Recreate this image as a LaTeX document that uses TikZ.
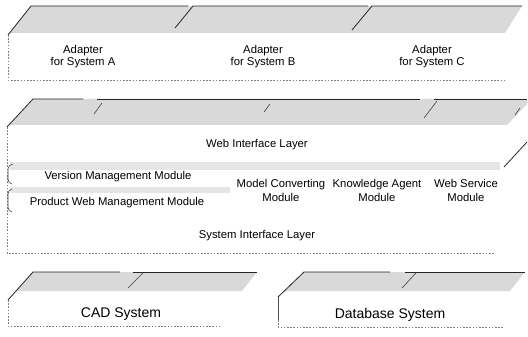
\documentclass[tikz,border=0pt]{standalone}
\usepackage{fontspec}
\setmainfont{Liberation Sans}
\begin{document}
\begin{tikzpicture}[x={(1pt,0pt)}, y={(0pt,-1pt)},
  topface/.style={fill=black!15, draw=none},
  rim/.style={draw=black!85, line width=0.8pt},
  mark/.append style={},
  thinrim/.style={draw=black!75, line width=0.6pt},
  faceedge/.style={draw=black!50, line width=0.6pt, dash pattern=on 1.6pt off 1.6pt},
  band/.style={fill=black!10, draw=none},
  lbl/.style={font=\fontsize{11.3}{12}\selectfont, align=center, inner sep=0pt},
  lbltwo/.style={font=\fontsize{11.3}{14}\selectfont, align=center, inner sep=0pt},
  biglbl/.style={font=\fontsize{14}{16}\selectfont, inner sep=0pt}]
\useasboundingbox (0,0) rectangle (528,337);

% ---------- adapter layer ----------
\fill[topface] (8,35) -- (31,6) -- (522,6) -- (505,33) -- (8,33) -- cycle;
\draw[rim] (8,35) -- (31,6) -- (188,6);
\draw[rim] (175,28) -- (193,6) -- (368,6);
\draw[rim] (352,30) -- (372,6) -- (522,6);
\draw[faceedge] (8,35) -- (8,80) -- (505,80);
\node[lbl] (adA) at (83,57) {Adapter\\for System A};
\node[lbl] (adB) at (263,57) {Adapter\\for System B};
\node[lbl] (adC) at (432,57) {Adapter\\for System C};

% ---------- interface layer ----------
\fill[topface] (7,127) -- (33,99) -- (527,99) -- (527,104) -- (507,125) -- (7,125) -- cycle;
\draw[rim] (7,127) -- (33,99) -- (83,99);
\draw[rim] (97,99) -- (420,99);
\draw[rim] (434,99) -- (527,99);
\draw[thinrim] (94,114) -- (102,103);
\draw[thinrim] (264,112) -- (270,104);
\draw[thinrim] (424,118) -- (437,101);
\draw[thinrim] (515,115) -- (520,108);
\draw[rim] (504,167) -- (527,142);
\draw[faceedge] (7,127) -- (7,253) -- (495,253);

% module row
\fill[band] (10,162) rectangle (500,170);
\fill[band] (10,187) rectangle (230,193);
\draw[thinrim] (13,164) to[out=180,in=90] (8,169) -- (8,179) to[out=-90,in=180] (12,184);
\draw[thinrim] (12,189) to[out=180,in=90] (8,194) -- (8,207) to[out=-90,in=180] (12,212);

\node[lbl] (web) at (257,145) {Web Interface Layer};
\node[lbl] (ver) at (118,177) {Version Management Module};
\node[lbl] (pwm) at (117,203) {Product Web Management Module};
\node[lbltwo] (mcm) at (281,190) {Model Converting\\Module};
\node[lbltwo] (kam) at (377,190) {Knowledge Agent\\Module};
\node[lbltwo] (wsm) at (466,190) {Web Service\\Module};
\node[lbl] (sys) at (257,236) {System Interface Layer};

% ---------- CAD system ----------
\fill[topface] (8,299) -- (33,272) -- (257,272) -- (242,291) -- (15,291) -- cycle;
\draw[rim] (8,300) -- (33,272) -- (120,272);
\draw[rim] (133,272) -- (257,272);
\draw[thinrim] (128,288) -- (143,273);
\draw[faceedge] (8,300) -- (8,326) -- (222,326);
\node[biglbl] (cad) at (121,314) {CAD System};

% ---------- database system ----------
\fill[topface] (278,297) -- (304,272) -- (525,272) -- (510,291) -- (285,291) -- cycle;
\draw[rim] (278,297) -- (304,272) -- (390,272);
\draw[rim] (405,272) -- (525,272);
\draw[thinrim] (402,288) -- (416,273);
\draw[draw=black!70, line width=0.7pt] (278,297) -- (278,320);
\draw[faceedge] (278,320) -- (278,327) -- (504,327);
\node[biglbl] (db) at (390,315) {Database System};
\end{tikzpicture}
\end{document}
